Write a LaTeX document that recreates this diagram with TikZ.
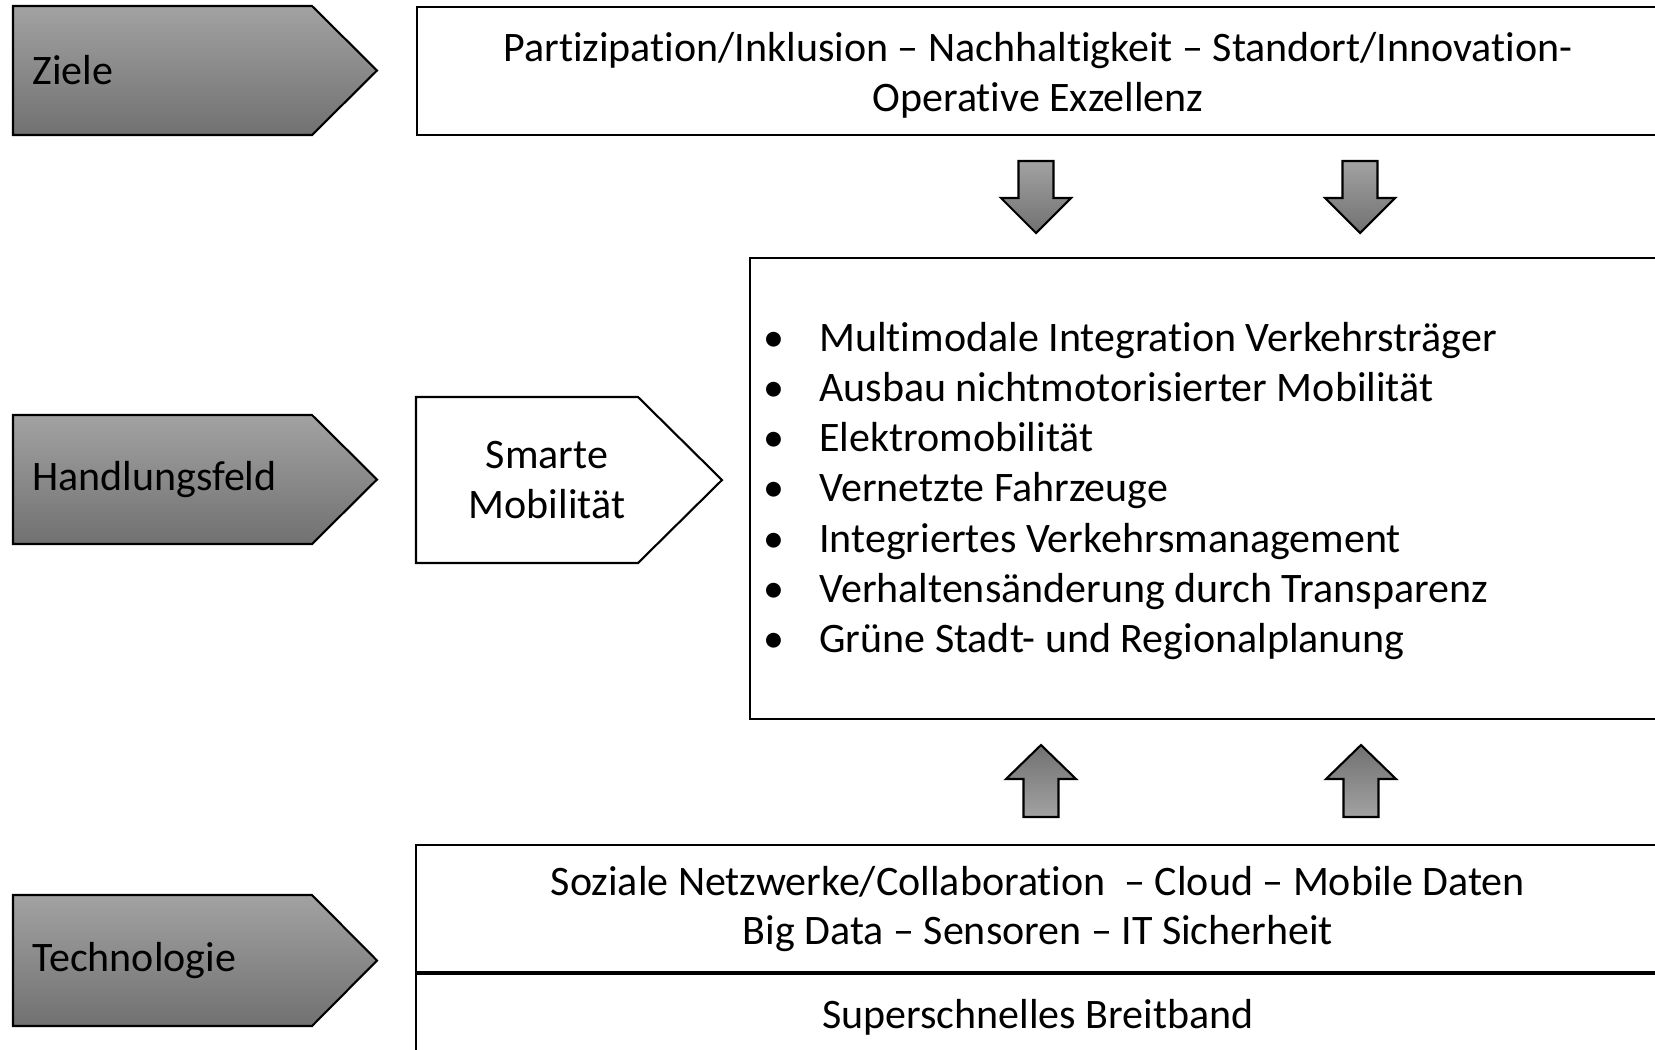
\documentclass[tikz,border=0pt]{standalone}
\usepackage{fontspec}
\setmainfont[Ligatures=NoCommon]{Carlito}
\usetikzlibrary{positioning}
\definecolor{greylight}{HTML}{A2A2A2}
\definecolor{greydark}{HTML}{717171}
\tikzset{
  sidearrow/.style={draw=black, line width=1.2pt, top color=greylight, bottom color=greydark},
  downarrow/.style={draw=black, line width=1.2pt, top color=greylight, bottom color=greydark},
  uparrow/.style={draw=black, line width=1.2pt, top color=greydark, bottom color=greylight},
  box/.style={draw=black, line width=1.2pt},
  sidelabel/.style={anchor=west, inner sep=0pt},
  item/.style={anchor=base west, inner sep=0pt},
}
\begin{document}
\begin{tikzpicture}[x=0.02cm,y=-0.02cm,font=\fontsize{23.9}{28.4}\selectfont]
    \useasboundingbox (0,0) rectangle (1655,1049);
    \clip (0,0) rectangle (1655,1049);
    % left column
    \foreach \name/\ya/\yb/\lab in {ziele/6/135/Ziele,feld/415/544/Handlungsfeld,tech/895/1026/Technologie} {
        \shade[sidearrow] (13,\ya) -- (312,\ya) -- (377,{(\ya+\yb)/2}) -- (312,\yb) -- (13,\yb) -- cycle;
        \node[sidelabel] (\name) at (32,{(\ya+\yb)/2}) {\lab};
    }
    % goals
    \draw[box] (417,7) rectangle (1665,135);
    \node[align=center] (goals) at (1038,75) {Partizipation/Inklusion -- Nachhaltigkeit -- Standort/Innovation-\\Operative Exzellenz};
    \foreach \x in {1036,1360}
        \shade[downarrow] (\x-17.5,161) -- (\x+17.5,161) -- (\x+17.5,198) -- (\x+35,198) -- (\x,233)
            -- (\x-35,198) -- (\x-17.5,198) -- cycle;
    % field of action
    \draw[box] (416,397) -- (638,397) -- (722,480) -- (638,563) -- (416,563) -- cycle;
    \node[align=center] (smart) at (547,480) {Smarte\\Mobilität};
    \draw[box] (750,258) rectangle (1665,719);
    \foreach \txt [count=\i] in {Multimodale Integration Verkehrsträger,
        Ausbau nichtmotorisierter Mobilität,Elektromobilität,Vernetzte Fahrzeuge,
        Integriertes Verkehrsmanagement,Verhaltensänderung durch Transparenz,
        Grüne Stadt- und Regionalplanung} {
        \node[item] (bul\i) at (763,{351+50.3*(\i-1)}) {•};
        \node[item] (item\i) at (819,{351+50.3*(\i-1)}) {\txt};
    }
    \foreach \x in {1041,1361}
        \shade[uparrow] (\x-17.5,817) -- (\x+17.5,817) -- (\x+17.5,779) -- (\x+35,779) -- (\x,745)
            -- (\x-35,779) -- (\x-17.5,779) -- cycle;
    % technology
    \draw[box] (416,845) rectangle (1665,1070);
    \draw[line width=2.2pt] (416,973) -- (1665,973);
    \node[align=center] (techs) at (1038,909) {Soziale Netzwerke/Collaboration\ \ -- Cloud -- Mobile Daten\\Big Data -- Sensoren -- IT Sicherheit};
    \node (band) at (1038,1017) {Superschnelles Breitband};
\end{tikzpicture}
\end{document}
